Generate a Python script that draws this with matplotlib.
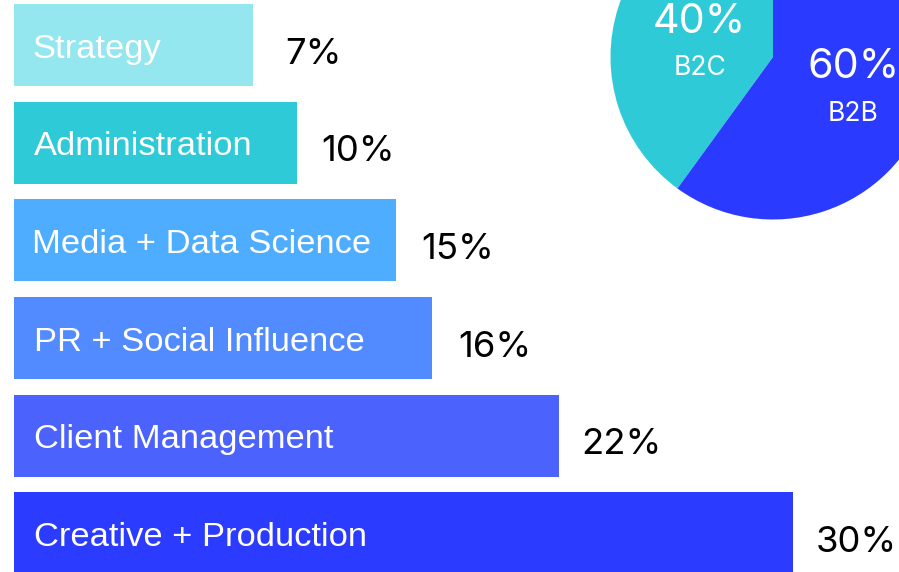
import matplotlib
matplotlib.use("Agg")
import matplotlib.pyplot as plt

# ---- data ----
categories = ["Strategy", "Administration", "Media + Data Science",
              "PR + Social Influence", "Client Management", "Creative + Production"]
pct_labels = ["7%", "10%", "15%", "16%", "22%", "30%"]
# bar lengths as drawn in the picture (scaled so the longest bar = 30)
bar_lengths = [9.2, 10.9, 14.7, 16.1, 21.0, 30.0]
bar_colors = ["#95E7EF", "#2ECAD8", "#4EADFF", "#528AFF", "#4C62FC", "#2B3BFF"]

pie_labels = ["B2C", "B2B"]
pie_values = [40, 60]
pie_colors = ["#2ECAD8", "#2A3BFF"]

# label spacing styles (pixels)
label_pad = [18, 20, 18, 20, 20, 20]
pct_gap = [32, 24, 26, 26, 22, 22.5]

W, H = 899, 572
fig = plt.figure(figsize=(W / 100, H / 100), dpi=100)
fig.patch.set_facecolor("white")

# ---- bars ----
ax = fig.add_axes([0, 0, 1, 1])
ypos = list(range(len(categories)))
ax.barh(ypos, bar_lengths, height=0.84, left=0, color=bar_colors, edgecolor="none")
ax.set_xlim(-0.539, 34.08)
ax.set_ylim(5.397, -0.464)
ax.axis("off")

for y, lab, L, p, lp, g in zip(ypos, categories, bar_lengths, pct_labels, label_pad, pct_gap):
    ax.annotate(lab, xy=(0, y), xytext=(lp, -12.5), textcoords="offset pixels",
                ha="left", va="baseline", color="white", fontsize=24.8,
                family="Liberation Sans")
    ax.annotate(p, xy=(L, y), xytext=(g, -18.5), textcoords="offset pixels",
                ha="left", va="baseline", color="black", fontsize=26.3,
                family="Inter")

# ---- pie ----
cx, cy, r = 773, 57, 162.5
pax = fig.add_axes([(cx - r) / W, (H - cy - r) / H, 2 * r / W, 2 * r / H])
pax.pie(pie_values, colors=pie_colors, startangle=90, counterclock=True,
        radius=1, wedgeprops=dict(linewidth=0))
pax.set_xlim(-1, 1)
pax.set_ylim(-1, 1)
pax.set_aspect("equal")
pax.axis("off")

pie_text_pos = [(-0.452, 0.148, -0.111), (0.495, -0.129, -0.394)]
for (x, yp, yl), lab, v in zip(pie_text_pos, pie_labels, pie_values):
    pax.text(x, yp, f"{v}%", ha="center", va="baseline", color="white",
             fontsize=29.7, family="Inter")
    pax.text(x, yl, lab, ha="center", va="baseline", color="white",
             fontsize=19, family="Inter")

fig.savefig("out.png", dpi=100)
